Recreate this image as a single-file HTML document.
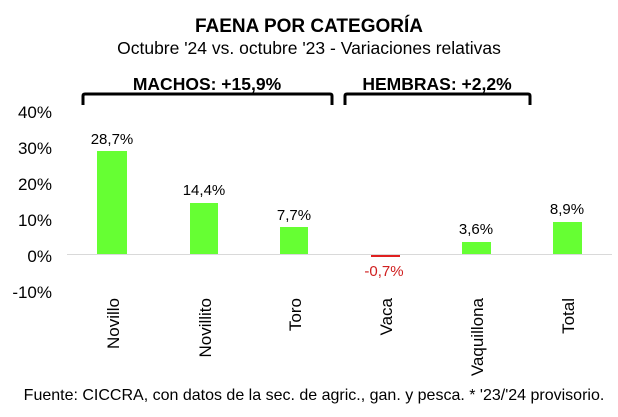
<!DOCTYPE html>
<html><head><meta charset="utf-8"><style>
body{margin:0;background:#fff;}
svg{display:block;font-family:"Liberation Sans",sans-serif;}
</style></head><body>
<svg width="618" height="417" viewBox="0 0 618 417">
<text x="309" y="32" text-anchor="middle" font-size="19" font-weight="bold">FAENA POR CATEGORÍA</text>
<text x="309" y="54" text-anchor="middle" font-size="17.5">Octubre '24 vs. octubre '23 - Variaciones relativas</text>
<text x="207" y="90" text-anchor="middle" font-size="17.5" font-weight="bold">MACHOS: +15,9%</text>
<text x="437" y="90" text-anchor="middle" font-size="17.5" font-weight="bold">HEMBRAS: +2,2%</text>
<path d="M83,105 V96 Q83,94 85,94 H330 Q332,94 332,96 V105" fill="none" stroke="#000" stroke-width="3"/>
<path d="M345,105 V96 Q345,94 347,94 H528 Q530,94 530,96 V105" fill="none" stroke="#000" stroke-width="3"/>
<g font-size="17" text-anchor="end">
<text x="52" y="118">40%</text>
<text x="52" y="154">30%</text>
<text x="52" y="190">20%</text>
<text x="52" y="226">10%</text>
<text x="52" y="262">0%</text>
<text x="52" y="298">-10%</text>
</g>
<line x1="67" y1="254.5" x2="612" y2="254.5" stroke="#d9d9d9" stroke-width="1"/>
<g fill="#66ff33">
<rect x="97" y="151" width="30" height="103"/>
<rect x="190" y="203" width="28" height="51"/>
<rect x="280" y="227" width="28" height="27"/>
<rect x="462" y="242" width="29" height="12"/>
<rect x="553" y="222" width="29" height="32"/>
</g>
<rect x="371" y="255" width="29" height="2" fill="#e02020"/>
<g font-size="15" text-anchor="middle">
<text x="112" y="144">28,7%</text>
<text x="204" y="195">14,4%</text>
<text x="294" y="220">7,7%</text>
<text x="384" y="276" fill="#d02020">-0,7%</text>
<text x="476" y="234">3,6%</text>
<text x="567" y="214">8,9%</text>
</g>
<g font-size="17" text-anchor="end">
<text transform="translate(119,298) rotate(-90)">Novillo</text>
<text transform="translate(211,298) rotate(-90)">Novillito</text>
<text transform="translate(301,298) rotate(-90)">Toro</text>
<text transform="translate(392,298) rotate(-90)">Vaca</text>
<text transform="translate(483,298) rotate(-90)">Vaquillona</text>
<text transform="translate(574,298) rotate(-90)">Total</text>
</g>
<text x="314" y="400" text-anchor="middle" font-size="16">Fuente: CICCRA, con datos de la sec. de agric., gan. y pesca. * '23/'24 provisorio.</text>
</svg>
</body></html>
